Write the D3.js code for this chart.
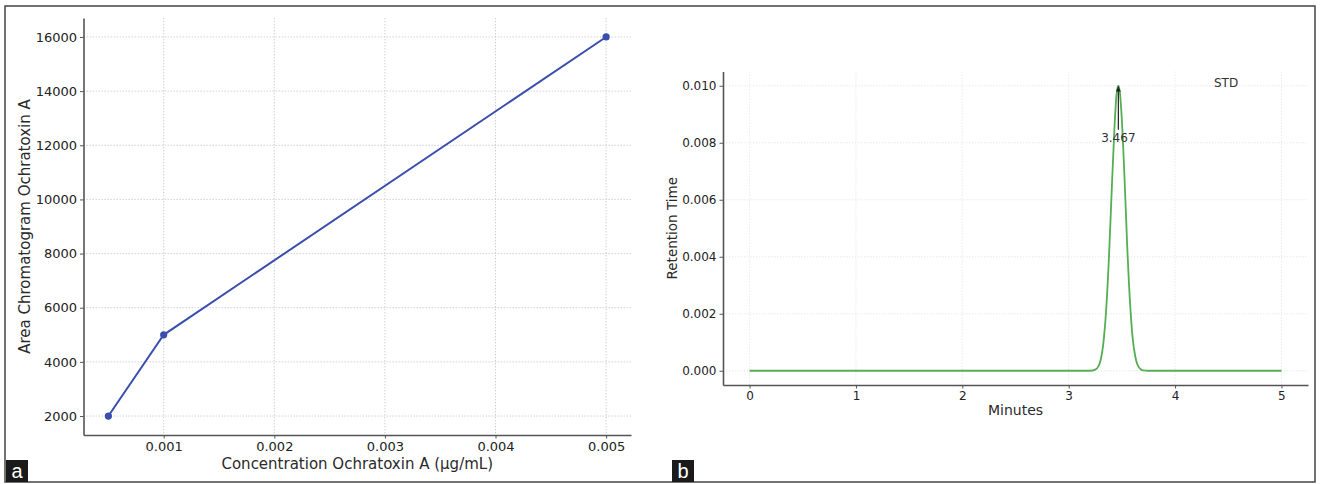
<!DOCTYPE html>
<html>
<head>
<meta charset="utf-8">
<script src="https://cdn.jsdelivr.net/npm/d3@7"></script>
<style>
  body { margin: 0; background: #fff; }
  svg { display: block; font-family: "DejaVu Sans", sans-serif; }
  .axis path, .axis line { stroke: #555; }
  .axis text { fill: #222; }
</style>
</head>
<body>
<svg id="chart" width="1322" height="484"></svg>
<script>
// ---- panel a: calibration curve ----
const concentration = [0.0005, 0.001, 0.005];
const peakArea = [2000, 5000, 16000];
const concTicks = [0.001, 0.002, 0.003, 0.004, 0.005];
const areaTicks = [2000, 4000, 6000, 8000, 10000, 12000, 14000, 16000];

// ---- panel b: chromatogram ----
const minutes = [0, 1, 2, 3, 3.2, 3.25, 3.28, 3.3, 3.33, 3.35, 3.38, 3.4, 3.43, 3.45, 3.467,
                 3.48, 3.5, 3.53, 3.55, 3.58, 3.6, 3.63, 3.65, 3.7, 3.75, 4, 5];
const signal = [0, 0, 0, 0, 0, 0.00004, 0.00016, 0.00037, 0.0011, 0.002, 0.0041, 0.0059, 0.0085, 0.0097, 0.01,
                0.0098, 0.0088, 0.0063, 0.0044, 0.0022, 0.0012, 0.00043, 0.00019, 0.00001, 0, 0, 0];
const minuteTicks = [0, 1, 2, 3, 4, 5];
const signalTicks = [0, 0.002, 0.004, 0.006, 0.008, 0.01];
const peakLabel = { time: 3.467, text: "3.467", textAt: 0.00818, tailAt: 0.00846, tipAt: 0.00997 };
const stdLabel = { time: 4.48, value: 0.0101, text: "STD" };

const svg = d3.select("#chart");

svg.append("rect")
  .attr("x", 5).attr("y", 6).attr("width", 1310).attr("height", 476)
  .attr("fill", "#fff").attr("stroke", "#444").attr("stroke-width", 1.5);

// Draw a matplotlib-like panel: dotted grid, left + bottom spines
function drawPanel(opts) {
  const { x, y, xTicks, yTicks, xFmt, yFmt, fontSize, gridColor } = opts;
  const g = svg.append("g");
  const [x0, x1] = x.range();
  const [y0, y1] = y.range();

  // grid
  g.append("g").selectAll("line").data(xTicks).join("line")
    .attr("x1", d => x(d)).attr("x2", d => x(d))
    .attr("y1", y1).attr("y2", y0)
    .attr("stroke", gridColor).attr("stroke-width", 0.9)
    .attr("stroke-dasharray", "1.4,1.6");
  g.append("g").selectAll("line").data(yTicks).join("line")
    .attr("x1", x0).attr("x2", x1)
    .attr("y1", d => y(d)).attr("y2", d => y(d))
    .attr("stroke", gridColor).attr("stroke-width", 0.9)
    .attr("stroke-dasharray", "1.4,1.6");

  // axes
  const ax = g.append("g").attr("class", "axis")
    .attr("transform", `translate(0,${y0})`)
    .call(d3.axisBottom(x).tickValues(xTicks).tickFormat(xFmt).tickSizeInner(3.5).tickSizeOuter(0).tickPadding(3));
  const ay = g.append("g").attr("class", "axis")
    .attr("transform", `translate(${x0},0)`)
    .call(d3.axisLeft(y).tickValues(yTicks).tickFormat(yFmt).tickSizeInner(3.5).tickSizeOuter(0).tickPadding(3));
  [ax, ay].forEach(a => {
    a.select(".domain").attr("stroke-width", 1.6);
    a.selectAll("text").style("font-size", fontSize + "px").attr("font-family", "DejaVu Sans");
  });
  return g;
}

// ---------- panel a ----------
const xA = d3.scaleLinear().domain([0.000275, 0.005225]).range([83.5, 631]);
const yA = d3.scaleLinear().domain([1300, 16700]).range([435, 18]);
const gA = drawPanel({ x: xA, y: yA, xTicks: concTicks, yTicks: areaTicks,
  xFmt: d3.format(".3f"), yFmt: d3.format("d"), fontSize: 13, gridColor: "#c9c9c9" });

const ptsA = concentration.map((c, i) => [c, peakArea[i]]);
gA.append("path")
  .datum(ptsA)
  .attr("fill", "none").attr("stroke", "#3a4ead").attr("stroke-width", 2)
  .attr("d", d3.line().x(d => xA(d[0])).y(d => yA(d[1])));
gA.append("g").selectAll("circle").data(ptsA).join("circle")
  .attr("cx", d => xA(d[0])).attr("cy", d => yA(d[1])).attr("r", 3.6)
  .attr("fill", "#3a4ead");

gA.append("text")
  .attr("x", (83.5 + 631) / 2).attr("y", 469)
  .attr("text-anchor", "middle").attr("fill", "#2a2a2a").style("font-size", "15px")
  .text("Concentration Ochratoxin A (µg/mL)");
gA.append("text")
  .attr("transform", `translate(30,${(435 + 18) / 2}) rotate(-90)`)
  .attr("text-anchor", "middle").attr("fill", "#2a2a2a").style("font-size", "15px")
  .text("Area Chromatogram Ochratoxin A");

// ---------- panel b ----------
const xB = d3.scaleLinear().domain([-0.25, 5.25]).range([723, 1308]);
const yB = d3.scaleLinear().domain([-0.0005, 0.0105]).range([385, 71.5]);
const gB = drawPanel({ x: xB, y: yB, xTicks: minuteTicks, yTicks: signalTicks,
  xFmt: d3.format("d"), yFmt: d3.format(".3f"), fontSize: 12, gridColor: "#e6e6e6" });

const ptsB = minutes.map((m, i) => [m, signal[i]]);
gB.append("path")
  .datum(ptsB)
  .attr("fill", "none").attr("stroke", "#55ad55").attr("stroke-width", 1.8)
  .attr("d", d3.line().curve(d3.curveMonotoneX).x(d => xB(d[0])).y(d => yB(d[1])));

// peak annotation arrow
svg.append("defs").append("marker")
  .attr("id", "arrow").attr("viewBox", "0 0 10 10")
  .attr("refX", 10).attr("refY", 5)
  .attr("markerWidth", 5).attr("markerHeight", 5)
  .attr("markerUnits", "userSpaceOnUse")
  .attr("orient", "auto")
  .append("path").attr("d", "M0,0L10,5L0,10z").attr("fill", "#222");
gB.append("line")
  .attr("x1", xB(peakLabel.time)).attr("x2", xB(peakLabel.time))
  .attr("y1", yB(peakLabel.tailAt)).attr("y2", yB(peakLabel.tipAt))
  .attr("stroke", "#222").attr("stroke-width", 1.2)
  .attr("marker-end", "url(#arrow)");
gB.append("text")
  .attr("x", xB(peakLabel.time)).attr("y", yB(peakLabel.textAt))
  .attr("dy", "0.35em").attr("text-anchor", "middle")
  .attr("fill", "#333").style("font-size", "12px")
  .text(peakLabel.text);
gB.append("text")
  .attr("x", xB(stdLabel.time)).attr("y", yB(stdLabel.value))
  .attr("dy", "0.35em").attr("text-anchor", "middle")
  .attr("fill", "#333").style("font-size", "12px")
  .text(stdLabel.text);

gB.append("text")
  .attr("x", (723 + 1308) / 2).attr("y", 415)
  .attr("text-anchor", "middle").attr("fill", "#2a2a2a").style("font-size", "14px")
  .text("Minutes");
gB.append("text")
  .attr("transform", `translate(677,${(385 + 71.5) / 2}) rotate(-90)`)
  .attr("text-anchor", "middle").attr("fill", "#2a2a2a").style("font-size", "13.5px")
  .text("Retention Time");

// panel letters
[{ t: "a", x: 6 }, { t: "b", x: 672 }].forEach(p => {
  svg.append("rect").attr("x", p.x).attr("y", 460).attr("width", 22).attr("height", 22).attr("fill", "#1a1a1a");
  svg.append("text").attr("x", p.x + 11).attr("y", 478)
    .attr("text-anchor", "middle").attr("fill", "#fff")
    .style("font-size", "20px").style("font-family", "Liberation Sans, Arial, sans-serif")
    .text(p.t);
});
</script>
</body>
</html>
